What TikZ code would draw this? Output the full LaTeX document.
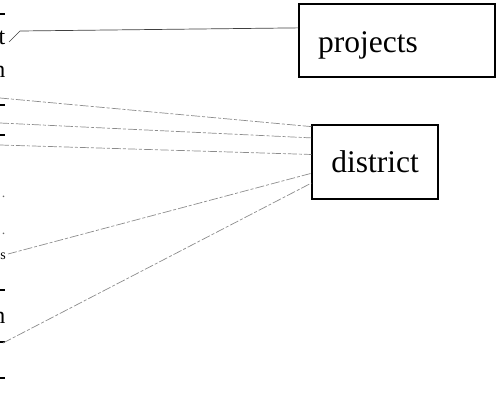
\documentclass[tikz,border=0pt]{standalone}
\usepackage{fontspec}
\setmainfont{Liberation Serif}
\usetikzlibrary{calc}
\begin{document}
\begin{tikzpicture}[x=1pt,y=-1pt,
  entity/.style={draw=black, line width=1.3pt, inner sep=0pt},
  bigtext/.style={font=\fontsize{31.5}{36}\selectfont},
  edgetext/.style={font=\fontsize{24}{28}\selectfont, inner sep=0pt},
  link/.style={draw=black!75, line width=0.7pt},
  weaklink/.style={draw=black!45, line width=0.7pt, dash pattern=on 9pt off 2pt on 3pt off 2pt},
  stub/.style={draw=black, line width=1.2pt}]
\useasboundingbox (0,0) rectangle (497,393);
\clip (0,0) rectangle (497,393);

% entity boxes
\node[entity, minimum width=196pt, minimum height=73pt] (projects) at (397,40.5) {};
\node[bigtext, anchor=base west, inner sep=0pt] (projtext) at (318,53) {projects};
\node[entity, bigtext, minimum width=126pt, minimum height=74pt] (district) at (375,162) {district};

% attribute fragments along the left edge
\node[edgetext, anchor=base east] (fa) at (5.5,45) {t};
\node[edgetext, anchor=base east] (fb) at (5.5,78) {n};
\node[edgetext, anchor=base east, text=black!60, font=\fontsize{14}{16}\selectfont] (fc) at (5.5,197) {.};
\node[edgetext, anchor=base east, text=black!60, font=\fontsize{14}{16}\selectfont] (fd) at (5.5,234) {.};
\node[edgetext, anchor=base east, font=\fontsize{14}{16}\selectfont] (fe) at (6,259) {s};
\node[edgetext, anchor=base east] (ff) at (5.5,323) {n};
\coordinate (s1a) at (0,14);  \coordinate (s1b) at (5,14);
\coordinate (s2a) at (0,105); \coordinate (s2b) at (5,105);
\coordinate (s3a) at (0,135); \coordinate (s3b) at (5,135);
\coordinate (s4a) at (0,290); \coordinate (s4b) at (5,290);
\coordinate (s5a) at (0,342); \coordinate (s5b) at (5,342);
\coordinate (s6a) at (0,378); \coordinate (s6b) at (5,378);
\foreach \s in {1,...,6} \draw[stub] (s\s a) -- (s\s b);

% connector to projects
\coordinate (pe) at (9,42);
\coordinate (pk) at (20,31);
\draw[link] (pe) -- (pk) -- ($(projects.north west)!0.33!(projects.south west)$);

% connectors to district
\coordinate (d1) at (0,98);
\coordinate (d2) at (0,123);
\coordinate (d3) at (0,145);
\coordinate (d4) at (8,254);
\coordinate (d5) at (3,343);
\draw[weaklink] (d1) -- ($(district.north west)!0.03!(district.south west)$);
\draw[weaklink] (d2) -- ($(district.north west)!0.18!(district.south west)$);
\draw[weaklink] (d3) -- ($(district.north west)!0.40!(district.south west)$);
\draw[weaklink] (d4) -- ($(district.north west)!0.65!(district.south west)$);
\draw[weaklink] (d5) -- ($(district.north west)!0.78!(district.south west)$);
\end{tikzpicture}
\end{document}
